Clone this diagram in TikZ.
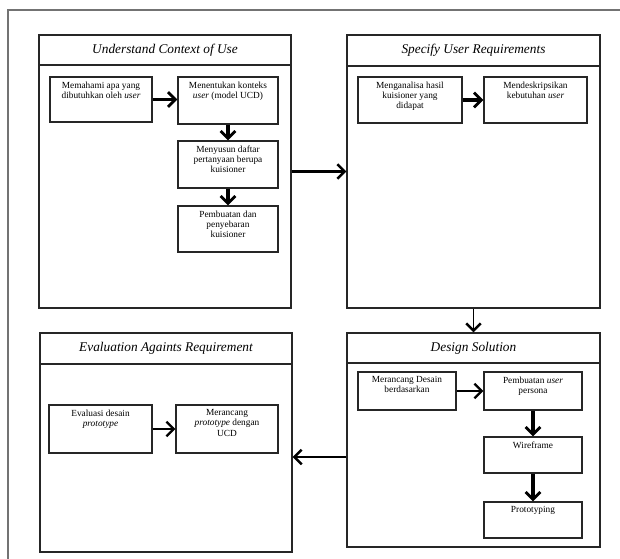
\documentclass[tikz,border=0pt]{standalone}
\usepackage{fontspec}
\setmainfont{Liberation Serif}
\usetikzlibrary{arrows.meta,calc}
\newdimen\pxu \pxu=0.75pt
\newcommand{\bxt}[3]{\parbox[c][#2\pxu][t]{#1\pxu}{\fontsize{7}{7.6}\selectfont\centering\vspace*{3.5pt}#3\par}}
\tikzset{
  bigbox/.style={draw=black!85, line width=0.8pt, inner sep=0pt},
  hdr/.style={draw=black!85, line width=0.8pt, inner sep=0pt, font=\fontsize{10}{12}\selectfont\itshape},
  sbox/.style={draw=black!85, line width=0.8pt, inner sep=0pt},
  thickarr/.style={line width=2.4pt, -{Straight Barb[length=5.5pt,width=11pt,line width=2.2pt]}},
  thinarr/.style={line width=1.6pt, -{Straight Barb[length=5.5pt,width=11pt,line width=1.8pt]}},
  bigarr/.style={line width=1.9pt, -{Straight Barb[length=5.5pt,width=11pt,line width=1.9pt]}},
}
\begin{document}
\begin{tikzpicture}[x=0.75pt,y=-0.75pt]
\useasboundingbox (0,0) rectangle (620,559);
% outer frame
\draw[black!55, line width=1.1pt] (8,559) -- (8,10) -- (620,10);

% big boxes
\node[bigbox, minimum width={252*0.75pt}, minimum height={273*0.75pt}] (U) at (165,171.5) {};
\node[hdr, minimum width={252*0.75pt}, minimum height={30*0.75pt}, anchor=north] (Uh) at (U.north) {Understand Context of Use};
\node[bigbox, minimum width={253*0.75pt}, minimum height={273*0.75pt}] (S) at (473.5,171.5) {};
\node[hdr, minimum width={253*0.75pt}, minimum height={31*0.75pt}, anchor=north] (Sh) at (S.north) {Specify User Requirements};
\node[bigbox, minimum width={252*0.75pt}, minimum height={219*0.75pt}] (E) at (166,442.5) {};
\node[hdr, minimum width={252*0.75pt}, minimum height={31*0.75pt}, anchor=north] (Eh) at (E.north) {Evaluation Againts Requirement};
\node[bigbox, minimum width={253*0.75pt}, minimum height={214*0.75pt}] (D) at (473.5,440) {};
\node[hdr, minimum width={253*0.75pt}, minimum height={30*0.75pt}, anchor=north] (Dh) at (D.north) {Design Solution};

% box 1 contents
\node[sbox] (u1) at (101,99.5) {\bxt{102}{45}{Memahami apa yang\\dibutuhkan oleh \textit{user}}};
\node[sbox] (u2) at (228,100.5) {\bxt{100}{47}{Menentukan konteks\\\textit{user} (model UCD)}};
\node[sbox] (u3) at (228,164.5) {\bxt{100}{47}{Menyusun daftar\\pertanyaan berupa\\kuisioner}};
\node[sbox] (u4) at (228,229) {\bxt{100}{46}{Pembuatan dan\\penyebaran\\kuisioner}};
\draw[thickarr] (u1.east) -- (u1.east -| u2.west);
\draw[thickarr] (u2.south) -- (u3.north);
\draw[thickarr] (u3.south) -- (u4.north);

% box 2 contents
\node[sbox] (s1) at (410,100) {\bxt{104}{46}{Menganalisa hasil\\kuisioner yang\\didapat}};
\node[sbox] (s2) at (535.5,100) {\bxt{103}{46}{Mendeskripsikan\\kebutuhan \textit{user}}};
\draw[thickarr] (s1.east) -- (s2.west);

% box 3 contents
\node[sbox] (e1) at (100.5,429) {\bxt{103}{48}{Evaluasi desain\\\textit{prototype}}};
\node[sbox] (e2) at (227,429) {\bxt{102}{48}{Merancang\\\textit{prototype} dengan\\UCD}};
\draw[thinarr] (e1.east) -- (e2.west);

% box 4 contents
\node[sbox] (d1) at (407,391) {\bxt{98}{38}{Merancang Desain\\berdasarkan}};
\node[sbox] (d2) at (533,391) {\bxt{98}{38}{Pembuatan \textit{user}\\persona}};
\node[sbox] (d3) at (533,455) {\bxt{98}{36}{Wireframe}};
\node[sbox] (d4) at (533,520) {\bxt{98}{36}{Prototyping}};
\draw[thinarr] (d1.east) -- (d2.west);
\draw[thickarr] (d2.south) -- (d3.north);
\draw[thickarr] (d3.south) -- (d4.north);

% connectors between big boxes
\coordinate (lev) at (0,457);
\draw[bigarr] (U.east) -- (S.west);
\draw[line width=1.2pt, -{Straight Barb[length=5.5pt,width=11pt,line width=1.9pt]}] (S.south) -- (D.north);
\draw[bigarr] (D.west |- lev) -- (E.east |- lev);
\end{tikzpicture}
\end{document}
